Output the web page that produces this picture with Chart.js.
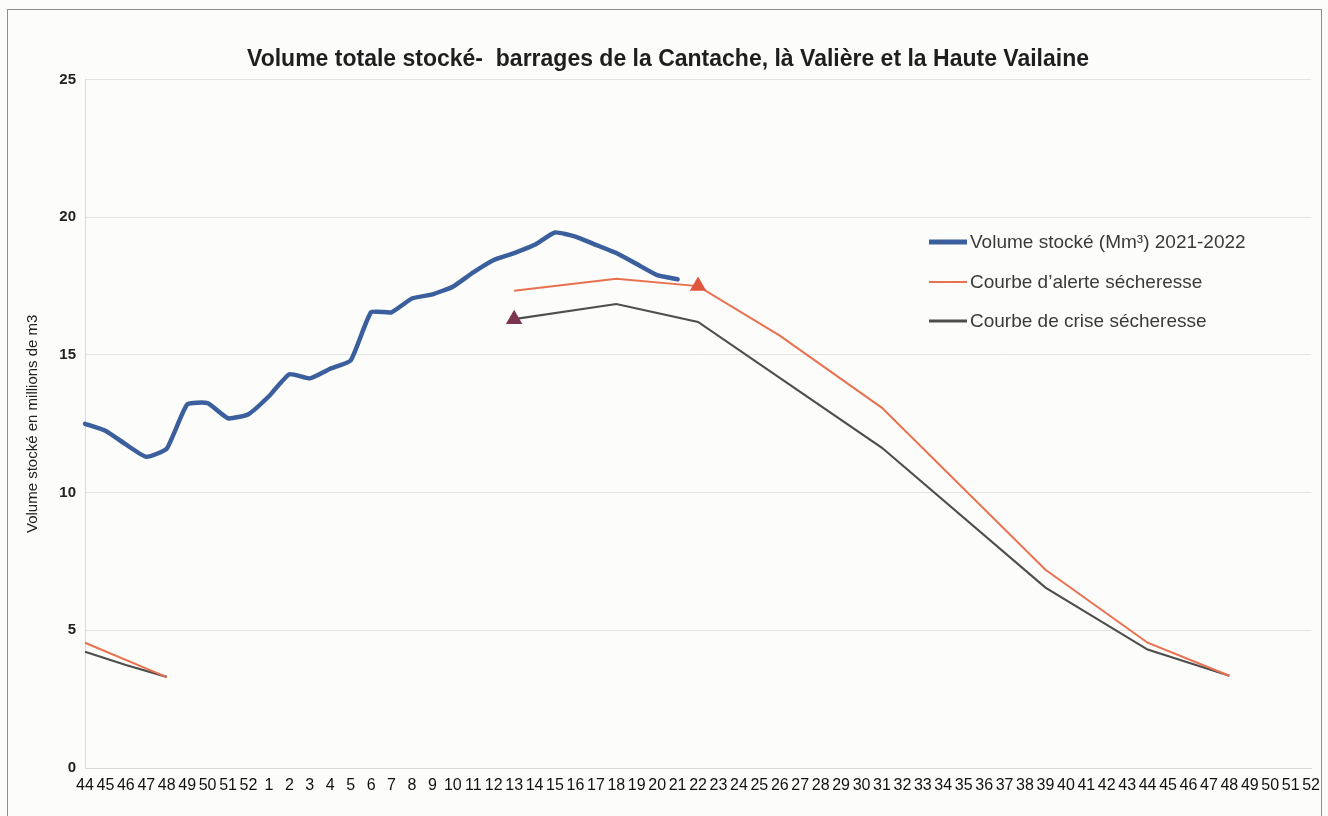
<!DOCTYPE html>
<html><head><meta charset="utf-8">
<script src="https://cdn.jsdelivr.net/npm/chart.js@4.4.1/dist/chart.umd.min.js"></script>
<style>
html,body{margin:0;padding:0;background:#fcfcfa;}
#wrap{position:relative;width:1328px;height:816px;overflow:hidden;}
#frame{position:absolute;left:7px;top:9px;width:1315px;height:830px;border:1.5px solid #8d8d8d;box-sizing:border-box;}
canvas{position:absolute;left:0;top:0;}
</style></head><body>
<div id="wrap"><div id="frame"></div><canvas id="c" width="1328" height="816"></canvas></div>
<script>
const weeks = [
  '44','45','46','47','48','49','50','51','52',
  '1','2','3','4','5','6','7','8','9','10',
  '11','12','13','14','15','16','17','18','19','20',
  '21','22','23','24','25','26','27','28','29','30',
  '31','32','33','34','35','36','37','38','39','40',
  '41','42','43','44','45','46','47','48','49','50','51','52'
];
const yTicks = [0, 5, 10, 15, 20, 25];

const volume2122 = [
  12.5, 12.25, 11.75, 11.3, 11.6, 13.2, 13.25, 12.7, 12.85,
  13.5, 14.3, 14.15, 14.5, 14.8, 16.55, 16.55, 17.05, 17.2, 17.48,
  18.0, 18.45, 18.7, 19.0, 19.45, 19.3, 19.0, 18.7, 18.3, 17.9,
  17.75
];

const alerte = [
  4.55, null, null, null, 3.3, null, null, null, null,
  null, null, null, null, null, null, null, null, null, null,
  null, null, 17.33, null, null, null, null, 17.77, null, null,
  null, 17.5, null, null, null, 15.7, null, null, null, null,
  13.08, null, null, null, null, null, null, null, 7.2, null,
  null, null, null, 4.55, null, null, null, 3.35, null, null, null, null
];

const crise = [
  4.22, null, 3.74, null, 3.31, null, null, null, null,
  null, null, null, null, null, null, null, null, null, null,
  null, null, 16.3, null, null, null, null, 16.85, null, null,
  null, 16.2, null, null, null, null, null, null, null, null,
  11.63, null, null, null, null, null, null, null, 6.55, null,
  null, null, null, 4.3, null, null, null, 3.35, null, null, null, null
];

const seriesNames = ['Volume stocké (Mm³) 2021-2022', 'Courbe d\u2019alerte sécheresse', 'Courbe de crise sécheresse'];
const alerteMarkerWeek = '22';
const criseMarkerWeek = '13';

const FONT = "'Liberation Sans', Arial, sans-serif";
const maxSpan = 10;
// hide the connecting stroke across long gaps (no data between two seasons)
const gapSeg = data => ctx => {
  let a = ctx.p0DataIndex;
  while (a > 0 && data[a] == null) a--;
  let b = ctx.p1DataIndex;
  while (b < data.length - 1 && data[b] == null) b++;
  return (b - a > maxSpan) ? 'rgba(0,0,0,0)' : undefined;
};

const legendPlugin = {
  id: 'customLegend',
  afterDraw(chart) {
    const ctx = chart.ctx;
    const x0 = 929, x1 = 967, tx = 970;
    const ys = [242, 282, 321];
    ctx.save();
    ctx.font = '19px ' + FONT;
    ctx.textBaseline = 'middle';
    ctx.textAlign = 'left';
    chart.data.datasets.forEach((ds, i) => {
      ctx.strokeStyle = ds.borderColor;
      ctx.lineWidth = ds.legendWidth;
      ctx.beginPath();
      ctx.moveTo(x0, ys[i]);
      ctx.lineTo(x1, ys[i]);
      ctx.stroke();
      ctx.fillStyle = '#3a3a3a';
      ctx.fillText(ds.label, tx, ys[i] + 1);
    });
    ctx.restore();
  }
};

new Chart(document.getElementById('c'), {
  type: 'line',
  data: {
    labels: weeks,
    datasets: [
      {
        label: seriesNames[0],
        data: volume2122,
        borderColor: '#3b5f9d',
        borderWidth: 4.5,
        legendWidth: 5,
        pointRadius: 0,
        tension: 0.15,
        borderJoinStyle: 'round',
        borderCapStyle: 'round'
      },
      {
        label: seriesNames[1],
        data: alerte,
        borderColor: '#e8714f',
        borderWidth: 2,
        legendWidth: 2,
        spanGaps: true,
        segment: { borderColor: gapSeg(alerte) },
        pointStyle: 'triangle',
        pointRadius: ctx => (ctx.dataIndex === weeks.indexOf(alerteMarkerWeek) ? 9.5 : 0),
        pointBackgroundColor: '#e0563c',
        pointBorderColor: '#e0563c',
        pointBorderWidth: 0,
        tension: 0
      },
      {
        label: seriesNames[2],
        data: crise,
        borderColor: '#4e4e4e',
        borderWidth: 2.2,
        legendWidth: 3,
        spanGaps: true,
        segment: { borderColor: gapSeg(crise) },
        pointStyle: 'triangle',
        pointRadius: ctx => (ctx.dataIndex === weeks.indexOf(criseMarkerWeek) ? 9.5 : 0),
        pointBackgroundColor: '#7c3450',
        pointBorderColor: '#7c3450',
        pointBorderWidth: 0,
        tension: 0
      }
    ]
  },
  options: {
    responsive: false,
    animation: false,
    events: [],
    layout: { padding: { left: 22, right: 14, top: 0, bottom: 18 } },
    plugins: {
      legend: { display: false },
      tooltip: { enabled: false },
      title: {
        display: true,
        text: 'Volume totale stocké-  barrages de la Cantache, là Valière et la Haute Vailaine',
        font: { family: FONT, size: 23, weight: 'bold' },
        color: '#1e1e1e',
        padding: { top: 46, bottom: 6 }
      }
    },
    scales: {
      x: {
        offset: false,
        afterFit: s => { s.height = 30; },
        grid: { display: false, drawTicks: false },
        border: { display: true, color: '#d8d8d8' },
        ticks: {
          autoSkip: false, maxRotation: 0, minRotation: 0, padding: 8,
          color: '#111', font: { family: FONT, size: 16 }
        }
      },
      y: {
        min: 0, max: 25,
        afterFit: s => { s.width = 63; },
        afterBuildTicks: s => { s.ticks = yTicks.map(v => ({ value: v })); },
        grid: { color: '#e4e4e4', drawTicks: false, lineWidth: 1 },
        border: { display: true, color: '#d8d8d8' },
        ticks: { padding: 9, color: '#222', font: { family: FONT, size: 15, weight: 'bold' } },
        title: {
          display: true,
          text: 'Volume stocké en millions de m3',
          color: '#222',
          font: { family: FONT, size: 15 },
          padding: { top: 2, bottom: 4 }
        }
      }
    }
  },
  plugins: [legendPlugin]
});
</script>
</body></html>
